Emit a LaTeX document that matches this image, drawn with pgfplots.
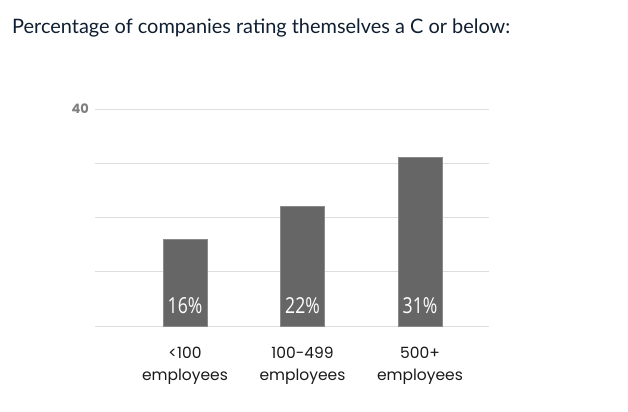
\documentclass[border=0pt]{standalone}
\usepackage{fontspec}
\usepackage{graphicx}
\usepackage{pgfplots}
\pgfplotsset{compat=1.18}
\setmainfont{Poppins}
\newfontfamily\titlefont{Lato}
\newfontfamily\barfont{Open Sans}[FakeStretch=0.8]
\definecolor{titlec}{HTML}{0F1E30}
\definecolor{barc}{HTML}{666666}
\definecolor{barborder}{HTML}{8A8A8A}
\definecolor{gridc}{HTML}{DDDDDD}
\definecolor{ytickc}{HTML}{7F7F7F}
\begin{document}
\begin{tikzpicture}
\path[use as bounding box] (0,0) rectangle (628bp,-412bp);
\node[anchor=base west, inner sep=0pt, text=titlec] at (12bp,-33bp)
  {\resizebox{498bp}{!}{\titlefont\fontsize{22bp}{26bp}\selectfont Percentage of companies rating themselves a C or below:}};
\begin{axis}[
  at={(95bp,-326bp)}, anchor=south west,
  width=394bp, height=217bp, scale only axis,
  xmin=-0.766, xmax=2.587, ymin=0, ymax=40,
  axis line style={draw=none},
  ytick={0,10,20,30,40}, yticklabels={,,,,40},
  ymajorgrids, major grid style={gridc, line width=1pt},
  major tick style={draw=none},
  xtick={0,1,2},
  xticklabels={{<100\\employees},{100-499\\employees},{500+\\employees}},
  xticklabel style={align=center, anchor=north, inner sep=0pt, yshift=-21bp,
    font=\fontsize{15.5bp}{21.5bp}\selectfont, text=black!90},
  yticklabel style={anchor=east, inner sep=0pt, xshift=-6bp,
    font=\fontsize{13bp}{14bp}\selectfont\bfseries, text=ytickc},
  clip=false,
]
\addplot[ybar, bar width=44bp, bar shift=0pt, fill=barc, draw=barborder, line width=0.8pt]
  coordinates {(0,16) (1,22) (2,31)};
\addplot[ybar, bar width=44bp, bar shift=0pt, draw=none, fill=none, forget plot,
  point meta=explicit symbolic,
  nodes near coords={\pgfplotspointmeta\%},
  every node near coord/.append style={anchor=base, inner sep=0pt, yshift=13bp,
    text=white, font=\barfont\fontsize{22bp}{22bp}\selectfont}]
  coordinates {(0,0) [16] (1,0) [22] (2,0) [31]};
\end{axis}
\end{tikzpicture}
\end{document}
